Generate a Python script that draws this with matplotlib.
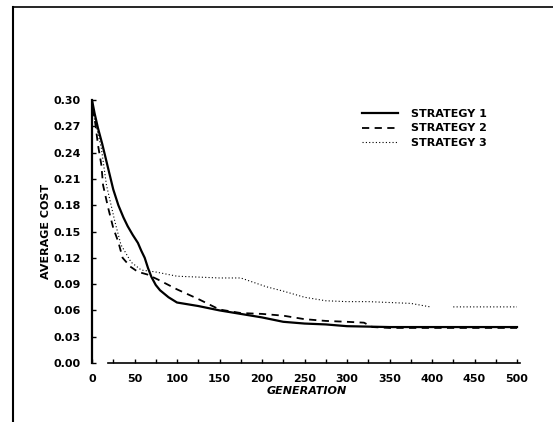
import numpy as np
import matplotlib
matplotlib.use("Agg")
import matplotlib.pyplot as plt
from matplotlib.lines import Line2D

# values
gen_1 = [0, 3, 7, 12, 19, 25, 31, 37, 42, 48, 54, 58, 62, 66, 70, 75, 80, 90,
         100, 125, 150, 175, 200, 225, 250, 275, 300, 350, 400, 450, 500]
cost_1 = [0.300, 0.285, 0.268, 0.250, 0.222, 0.198, 0.180, 0.166, 0.156, 0.146,
          0.137, 0.128, 0.120, 0.108, 0.098, 0.089, 0.083, 0.075, 0.069, 0.065,
          0.060, 0.056, 0.052, 0.047, 0.045, 0.044, 0.042, 0.041, 0.041, 0.041,
          0.041]

gen_2 = [0, 3, 7, 11, 13, 19, 25, 31, 36, 45, 54, 65, 78, 100, 125, 150, 175,
         200, 225, 250, 275, 300, 320, 330, 350, 400, 450, 500]
cost_2 = [0.290, 0.280, 0.249, 0.226, 0.203, 0.177, 0.154, 0.138, 0.120, 0.110,
          0.104, 0.101, 0.095, 0.084, 0.073, 0.061, 0.057, 0.056, 0.054, 0.050,
          0.048, 0.047, 0.046, 0.041, 0.040, 0.040, 0.040, 0.040]

gen_3 = [0, 5, 11, 17, 27, 34, 46, 58, 74, 100, 125, 150, 175, 190, 205, 225,
         250, 275, 300, 325, 350, 375, 398, 399, 424, 425, 450, 475, 500]
cost_3 = [0.290, 0.270, 0.245, 0.203, 0.161, 0.135, 0.115, 0.106, 0.104, 0.099,
          0.098, 0.097, 0.097, 0.092, 0.087, 0.082, 0.075, 0.071, 0.070, 0.070,
          0.069, 0.068, 0.064, np.nan, np.nan, 0.064, 0.064, 0.064, 0.064]

x_ticks = [0, 50, 100, 150, 200, 250, 300, 350, 400, 450, 500]
y_ticks = [0.00, 0.03, 0.06, 0.09, 0.12, 0.15, 0.18, 0.21, 0.24, 0.27, 0.30]
labels = ["STRATEGY 1", "STRATEGY 2", "STRATEGY 3"]

W, H = 553, 422
fig = plt.figure(figsize=(W / 100, H / 100), dpi=100)
fig.patch.set_facecolor("white")

# axes: x=0 at px 92, 0.85 px per generation; y=0 at px 363, y=0.30 at px 100
ax = fig.add_axes([92 / W, (H - 363) / H, 505 * 0.85 / W, 263 / H])
ax.set_xlim(0, 505)
ax.set_ylim(0, 0.30)

ax.plot(gen_1, cost_1, color="black", lw=1.6, ls="-", label=labels[0])
ax.plot(gen_2, cost_2, color="black", lw=1.3, ls=(0, (4, 3)), label=labels[1])
ax.plot(gen_3, cost_3, color="black", lw=0.8, ls=(0, (1, 2)), label=labels[2])

font = dict(family="DejaVu Sans", weight="bold", size=8)

ax.set_xticks(x_ticks)
ax.set_xticks(np.arange(25, 500, 50), minor=True)
ax.set_yticks(y_ticks)
ax.set_xticklabels([str(v) for v in x_ticks], fontdict=font)
ax.set_yticklabels([f"{v:.2f}" for v in y_ticks], fontdict=font)
ax.tick_params(axis="both", which="both", direction="in", length=3, width=1,
               colors="black")
ax.tick_params(axis="y", pad=8)
ax.tick_params(axis="x", pad=8)

for s in ["top", "right"]:
    ax.spines[s].set_visible(False)
ax.spines["left"].set_linewidth(1.6)
ax.spines["bottom"].set_linewidth(1.2)
ax.spines["bottom"].set_bounds(19, 503)
ax.spines["left"].set_bounds(0, 0.30)

ax.set_xlabel("GENERATION", fontdict=dict(family="DejaVu Sans", weight="bold",
                                          style="italic", size=8), labelpad=1)
ax.set_ylabel("AVERAGE COST", fontdict=font, labelpad=2)

leg = ax.legend(loc="upper left", bbox_to_anchor=(362 / W, 1 - 109 / H),
                bbox_transform=fig.transFigure, frameon=False,
                prop=dict(family="DejaVu Sans", weight="bold", size=8),
                handlelength=3.2, handletextpad=1.2, labelspacing=0.4,
                borderpad=0, borderaxespad=0)

# page frame (top and left edges)
fig.add_artist(Line2D([13 / W, 13 / W], [0, 1 - 7 / H], transform=fig.transFigure,
                      color="black", lw=1.5))
fig.add_artist(Line2D([13 / W, 1], [1 - 7 / H, 1 - 7 / H], transform=fig.transFigure,
                      color="black", lw=1.2))

fig.savefig("out.png", dpi=100, facecolor="white")
